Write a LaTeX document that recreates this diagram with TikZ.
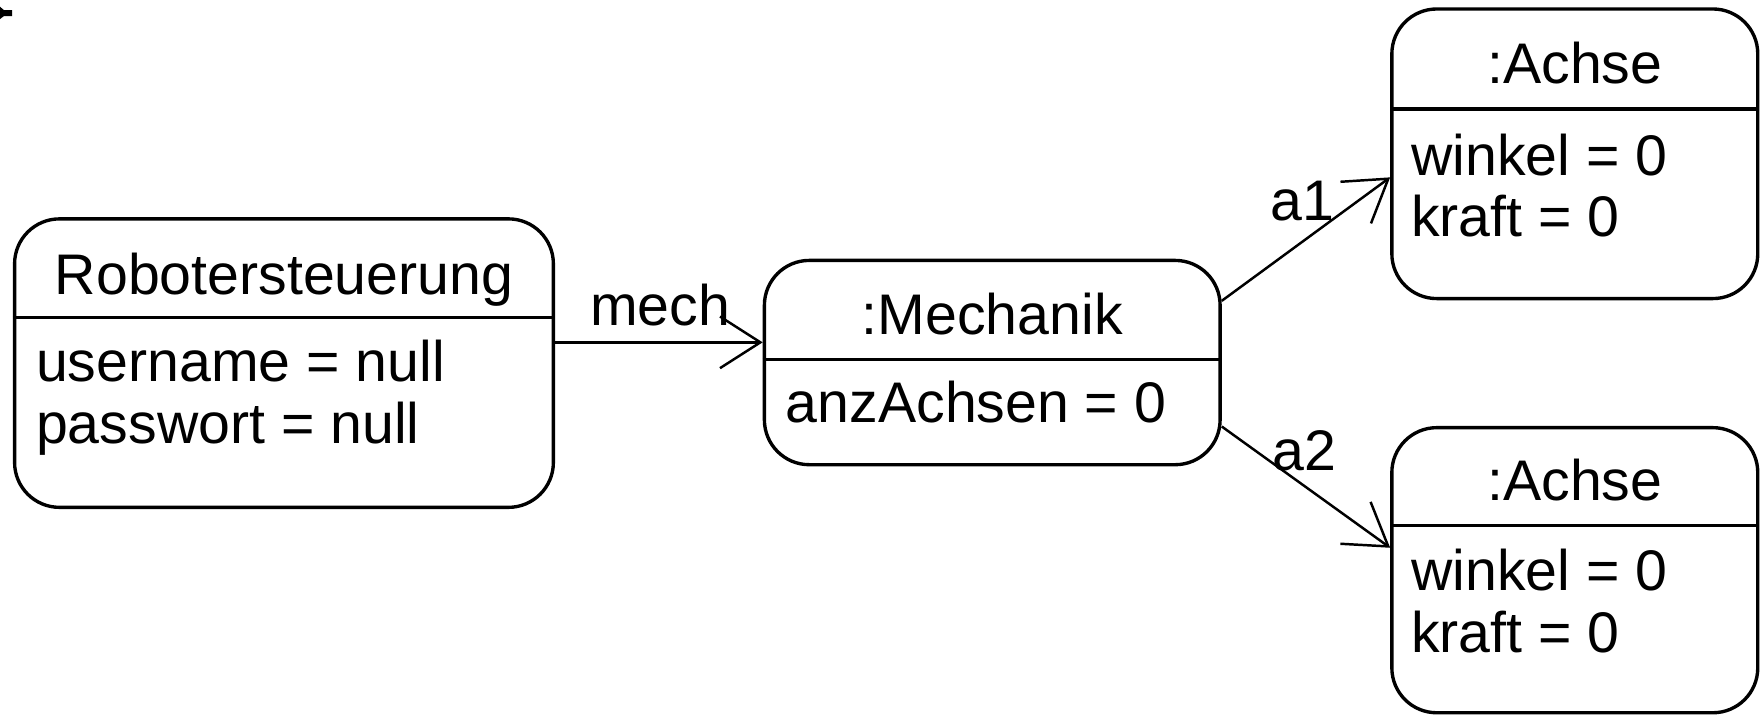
\documentclass[tikz,border=0pt]{standalone}
\usepackage{fontspec}
\setmainfont{Liberation Sans}
\usetikzlibrary{arrows.meta}
\begin{document}
\begin{tikzpicture}[x=1pt,y=-1pt,
  objbox/.style={draw, line width=3pt, rounded corners=40pt, inner sep=0pt},
  sepline/.style={line width=3pt},
  conn/.style={line width=2.2pt, -{Straight Barb[length=36pt,width=46pt]}},
  txt/.style={font=\fontsize{51}{60}\selectfont, inner sep=0pt, anchor=base},
  attr/.style={font=\fontsize{51}{60}\selectfont, inner sep=0pt, anchor=base west},
  lbl/.style={font=\fontsize{51}{60}\selectfont, inner sep=0pt, anchor=base}]
\useasboundingbox (0,0) rectangle (1568,637);
% top-left mark
\fill (0,6) -- (3.5,9) -- (10.7,9) -- (10.7,14.3) -- (3.5,14.3) -- (0,17) -- cycle;
% Robotersteuerung
\node[objbox, minimum width=480pt, minimum height=257pt] (rs) at (253,323.5) {};
\draw[sepline] (rs.west |- 0,283) -- (rs.east |- 0,283);
\node[txt] (rst) at (253,262) {Robotersteuerung};
\node[attr] (rsa1) at (32,340) {username = null};
\node[attr] (rsa2) at (32,395) {passwort = null};
% Mechanik
\node[objbox, minimum width=406pt, minimum height=182pt] (me) at (884,323) {};
\draw[sepline] (me.west |- 0,320) -- (me.east |- 0,320);
\node[txt] (met) at (884,298) {:Mechanik};
\node[attr] (mea1) at (700,376) {anzAchsen = 0};
% Achse 1
\node[objbox, minimum width=326pt, minimum height=258pt] (a1) at (1403,137) {};
\draw[sepline] (a1.west |- 0,97) -- (a1.east |- 0,97);
\node[txt] (a1t) at (1403,74) {:Achse};
\node[attr] (a1a1) at (1257,156) {winkel = 0};
\node[attr] (a1a2) at (1257,211) {kraft = 0};
% Achse 2
\node[objbox, minimum width=326pt, minimum height=254pt] (a2) at (1403,508) {};
\draw[sepline] (a2.west |- 0,468) -- (a2.east |- 0,468);
\node[txt] (a2t) at (1403,446) {:Achse};
\node[attr] (a2a1) at (1257,526) {winkel = 0};
\node[attr] (a2a2) at (1257,581) {kraft = 0};
% connectors
\coordinate (c1s) at (rs.east |- 0,305);
\coordinate (c1e) at (me.west |- 0,305);
\draw[conn] (c1s) -- (c1e);
\node[lbl] (lm) at (588,290) {mech};
\coordinate (c2s) at (me.east |- 0,268);
\coordinate (c2e) at (a1.west |- 0,158);
\draw[conn] (c2s) -- (c2e);
\node[lbl] (la1) at (1160,196) {a1};
\coordinate (c3s) at (me.east |- 0,380);
\coordinate (c3e) at (a2.west |- 0,488);
\draw[conn] (c3s) -- (c3e);
\node[lbl] (la2) at (1162,419) {a2};
\end{tikzpicture}
\end{document}
